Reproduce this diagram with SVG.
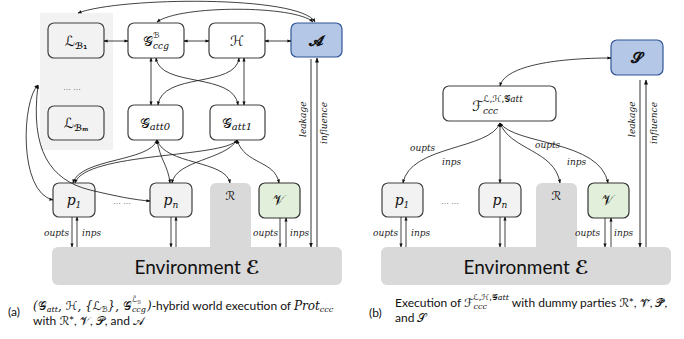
<svg xmlns="http://www.w3.org/2000/svg" width="684" height="339" viewBox="0 0 684 339">
<style>
.box{stroke:#404040;stroke-width:1.2}
.wh{fill:#ffffff}
.gr{fill:#f2f2f2}
.bl{fill:#b4c7e7;stroke:#2f5597;stroke-width:1.2}
.gn{fill:#e2efda;stroke:#333;stroke-width:1.2}
.env{fill:#d9d9d9}
.m{font-family:"DejaVu Serif","Liberation Serif",serif;font-style:italic;fill:#111}
.s{font-family:"DejaVu Sans","Noto Sans",sans-serif;font-style:normal}
.lbl{font-family:"DejaVu Serif","Liberation Serif",serif;font-style:italic;font-size:9px;fill:#222}
.cap{font-family:"Lato","Open Sans",sans-serif;font-size:12px;fill:#111}
.c{fill:none;stroke:#111;stroke-width:0.8}
.ln{fill:none;stroke:#333;stroke-width:1}
</style>
<defs>
<marker id="ah" viewBox="0 0 10 10" refX="9" refY="5" markerWidth="5" markerHeight="5" orient="auto-start-reverse"><path d="M0,1 L10,5 L0,9z" fill="#111"/></marker>
</defs>
<g id="panelB"><rect x="40" y="13" width="73" height="137" fill="#f2f2f2"/><text x="72" y="90" font-family="Liberation Sans,sans-serif" font-size="8" text-anchor="middle" fill="#333">… …</text></g>
<g id="LB1"><rect class="box gr" x="48" y="23" width="56" height="35" rx="6"/><text class="m" x="76" y="46" font-size="14" text-anchor="middle"><tspan class="s">ℒ</tspan><tspan class="s" font-size="9" dy="3" font-weight="bold">ℬ₁</tspan></text></g>
<g id="LBm"><rect class="box gr" x="48" y="106" width="56" height="34" rx="6"/><text class="m" x="76" y="128" font-size="14" text-anchor="middle"><tspan class="s">ℒ</tspan><tspan class="s" font-size="9" dy="3" font-weight="bold">ℬₘ</tspan></text></g>
<g id="Gccg"><rect class="box wh" x="128" y="23" width="56" height="35" rx="6"/><text class="m" x="156" y="46" font-size="14" text-anchor="middle"><tspan class="s">𝒢</tspan><tspan font-size="9" dy="3">ccg</tspan><tspan class="s" font-size="8" dx="-16" dy="-11">ℬ</tspan></text></g>
<g id="H"><rect class="box wh" x="209" y="23" width="56" height="35" rx="6"/><text class="m s" x="237" y="46" font-size="14" text-anchor="middle">ℋ</text></g>
<g id="A"><rect class="bl" x="291" y="23" width="51" height="34" rx="6"/><text class="m s" x="316" y="46" font-size="15" font-weight="bold" text-anchor="middle">𝓐</text></g>
<g id="Gatt0"><rect class="box wh" x="128" y="105" width="55" height="35" rx="6"/><text class="m" x="155" y="128" font-size="14" text-anchor="middle"><tspan class="s">𝒢</tspan><tspan font-size="10" dy="2">att0</tspan></text></g>
<g id="Gatt1"><rect class="box wh" x="210" y="105" width="55" height="35" rx="6"/><text class="m" x="237" y="128" font-size="14" text-anchor="middle"><tspan class="s">𝒢</tspan><tspan font-size="10" dy="2">att1</tspan></text></g>
<g id="envL"><rect class="env" x="210" y="183" width="41" height="70" rx="6"/><rect class="env" x="52" y="247" width="290" height="38" rx="6"/><text class="m s" x="230" y="200" font-size="12" text-anchor="middle">ℛ</text><text x="197" y="274" font-family="Lato,sans-serif" font-size="19" text-anchor="middle" fill="#111">Environment <tspan class="s" font-weight="bold">ℰ</tspan></text></g>
<g id="p1L"><rect class="box gr" x="53" y="183" width="42" height="34" rx="6"/><text class="m" x="74" y="205" font-size="14" text-anchor="middle">p<tspan font-size="9" dy="3">1</tspan></text></g>
<g id="pnL"><rect class="box gr" x="150" y="183" width="42" height="34" rx="6"/><text class="m" x="171" y="205" font-size="14" text-anchor="middle">p<tspan font-size="9" dy="3">n</tspan></text><text x="122" y="204" font-family="Liberation Sans,sans-serif" font-size="8" text-anchor="middle" fill="#333">… …</text></g>
<g id="VL"><rect class="gn" x="259" y="183" width="41" height="35" rx="6"/><text class="m s" x="279" y="205" font-size="14" text-anchor="middle">𝒱</text></g>
<g id="S"><rect class="bl" x="611" y="40" width="52" height="35" rx="6"/><text class="m s" x="637" y="63" font-size="15" font-weight="bold" text-anchor="middle">𝓢</text></g>
<g id="F"><rect class="box wh" x="443" y="86" width="113" height="35" rx="6"/><text class="m" x="472" y="111" font-size="14"><tspan class="s">ℱ</tspan><tspan font-size="9" dy="3">ccc</tspan><tspan font-size="9" dx="-15" dy="-12"><tspan class="s">ℒ,ℋ,𝒢</tspan>att</tspan></text></g>
<g id="envR"><rect class="env" x="536" y="183" width="41" height="70" rx="6"/><rect class="env" x="381" y="247" width="290" height="38" rx="6"/><text class="m s" x="556" y="200" font-size="12" text-anchor="middle">ℛ</text><text x="526" y="274" font-family="Lato,sans-serif" font-size="19" text-anchor="middle" fill="#111">Environment <tspan class="s" font-weight="bold">ℰ</tspan></text></g>
<g id="p1R"><rect class="box gr" x="382" y="183" width="41" height="34" rx="6"/><text class="m" x="402" y="205" font-size="14" text-anchor="middle">p<tspan font-size="9" dy="3">1</tspan></text><text x="450" y="204" font-family="Liberation Sans,sans-serif" font-size="8" text-anchor="middle" fill="#333">… …</text></g>
<g id="pnR"><rect class="box gr" x="479" y="183" width="42" height="34" rx="6"/><text class="m" x="500" y="205" font-size="14" text-anchor="middle">p<tspan font-size="9" dy="3">n</tspan></text></g>
<g id="VR"><rect class="gn" x="588" y="183" width="41" height="35" rx="6"/><text class="m s" x="608" y="205" font-size="14" text-anchor="middle">𝒱</text></g>
<g id="connectors">
<path class="c" d="M315,22 C300,-5 120,-3 78,13" marker-start="url(#ah)" marker-end="url(#ah)"/>
<path class="c" d="M313,22 C295,5 180,5 157,22" marker-start="url(#ah)" marker-end="url(#ah)"/>
<path class="c" d="M104,41 L128,41" marker-start="url(#ah)" marker-end="url(#ah)"/>
<path class="c" d="M184,41 L209,41" marker-start="url(#ah)" marker-end="url(#ah)"/>
<path class="c" d="M265,41 L291,41" marker-start="url(#ah)" marker-end="url(#ah)"/>
<path class="c" d="M151,58 L151,105" marker-start="url(#ah)" marker-end="url(#ah)"/>
<path class="c" d="M156,58 C160,88 234,72 238,105" marker-start="url(#ah)" marker-end="url(#ah)"/>
<path class="c" d="M239,58 C236,88 162,72 158,105" marker-start="url(#ah)" marker-end="url(#ah)"/>
<path class="c" d="M244,58 L244,105" marker-start="url(#ah)" marker-end="url(#ah)"/>
<path class="c" d="M157,140 C150,162 80,158 73,183" marker-start="url(#ah)" marker-end="url(#ah)"/>
<path class="c" d="M157,140 C160,160 168,165 170,183" marker-start="url(#ah)" marker-end="url(#ah)"/>
<path class="c" d="M157,140 C165,165 226,160 230,183" marker-start="url(#ah)" marker-end="url(#ah)"/>
<path class="c" d="M237,140 C225,158 85,152 75,183" marker-start="url(#ah)" marker-end="url(#ah)"/>
<path class="c" d="M237,140 C225,160 176,160 172,183" marker-start="url(#ah)" marker-end="url(#ah)"/>
<path class="c" d="M237,140 C245,165 275,160 279,183" marker-start="url(#ah)" marker-end="url(#ah)"/>
<path class="c" d="M38,85 C22,100 18,192 53,200" marker-start="url(#ah)" marker-end="url(#ah)"/>
<path class="c" d="M38,85 C30,150 50,180 90,190 C115,196 135,200 150,201" marker-start="url(#ah)" marker-end="url(#ah)"/>
<path class="c" d="M72,217 L72,247" marker-end="url(#ah)"/>
<path class="c" d="M77,247 L77,217" marker-end="url(#ah)"/>
<path class="c" d="M171,217 L171,247" marker-end="url(#ah)"/>
<path class="c" d="M176,247 L176,217" marker-end="url(#ah)"/>
<path class="c" d="M280,218 L280,247" marker-end="url(#ah)"/>
<path class="c" d="M286,247 L286,218" marker-end="url(#ah)"/>
<path class="ln" d="M311,59 L311,247" marker-end="url(#ah)"/>
<path class="ln" d="M317,247 L317,58" marker-end="url(#ah)"/>
<path class="c" d="M500,86 C505,65 560,58 611,58" marker-start="url(#ah)" marker-end="url(#ah)"/>
<path class="c" d="M500,123 C490,150 410,145 403,183" marker-start="url(#ah)" marker-end="url(#ah)"/>
<path class="c" d="M500,123 L500,183" marker-start="url(#ah)" marker-end="url(#ah)"/>
<path class="c" d="M500,123 C510,150 555,150 560,183" marker-start="url(#ah)" marker-end="url(#ah)"/>
<path class="c" d="M500,123 C515,145 600,140 608,183" marker-start="url(#ah)" marker-end="url(#ah)"/>
<path class="c" d="M401,217 L401,247" marker-end="url(#ah)"/>
<path class="c" d="M406,247 L406,217" marker-end="url(#ah)"/>
<path class="c" d="M500,217 L500,247" marker-end="url(#ah)"/>
<path class="c" d="M505,247 L505,217" marker-end="url(#ah)"/>
<path class="c" d="M605,218 L605,247" marker-end="url(#ah)"/>
<path class="c" d="M611,247 L611,218" marker-end="url(#ah)"/>
<path class="ln" d="M640,80 L640,247" marker-end="url(#ah)"/>
<path class="ln" d="M646,247 L646,80" marker-end="url(#ah)"/>
</g>
<g id="labels">
<text class="lbl" x="44" y="236">oupts</text><text class="lbl" x="82" y="236">inps</text>
<text class="lbl" x="253" y="236">oupts</text><text class="lbl" x="290" y="236">inps</text>
<text class="lbl" transform="translate(306,137) rotate(-90)">leakage</text>
<text class="lbl" transform="translate(327,144) rotate(-90)">influence</text>
<text class="lbl" x="373" y="236">oupts</text><text class="lbl" x="411" y="236">inps</text>
<text class="lbl" x="575" y="236">oupts</text><text class="lbl" x="614" y="236">inps</text>
<text class="lbl" transform="translate(635,137) rotate(-90)">leakage</text>
<text class="lbl" transform="translate(657,144) rotate(-90)">influence</text>
<text class="lbl" x="410" y="151">oupts</text><text class="lbl" x="442" y="165">inps</text>
<text class="lbl" x="535" y="148">oupts</text><text class="lbl" x="567" y="165">inps</text>
</g>
<g id="captions">
<text class="cap" x="8" y="316">(a)</text>
<text class="cap" x="33" y="310"><tspan class="m">(<tspan class="s">𝒢</tspan><tspan font-size="8" dy="2">att</tspan><tspan dy="-2">, <tspan class="s">ℋ</tspan>, {<tspan class="s">ℒ</tspan></tspan><tspan class="s" font-size="8" dy="2">ℬ</tspan><tspan dy="-2">}, <tspan class="s">𝒢</tspan></tspan><tspan font-size="8" dy="2">ccg</tspan><tspan class="s" font-size="7" dx="-14" dy="-10">ℒ̃</tspan><tspan class="s" font-size="5" dy="2">ℬ</tspan><tspan dx="6" dy="6">)</tspan></tspan>-hybrid world execution of <tspan class="m">Prot<tspan font-size="8" dy="2">ccc</tspan></tspan></text>
<text class="cap" x="33" y="325">with <tspan class="s">ℛ</tspan>*, <tspan class="s">𝒱</tspan>, <tspan class="s">𝒫</tspan>, and <tspan class="s">𝒜</tspan></text>
<text class="cap" x="369" y="317">(b)</text>
<text class="cap" x="395" y="307">Execution of <tspan class="s">ℱ</tspan><tspan class="m" font-size="8" dy="2">ccc</tspan><tspan font-size="8" dx="-14" dy="-9"><tspan class="s">ℒ,ℋ,𝒢</tspan><tspan class="m">att</tspan></tspan><tspan dy="7"> with dummy parties </tspan><tspan class="s">ℛ</tspan>*, <tspan class="s">𝒱̃</tspan>, <tspan class="s">𝒫̃</tspan>,</text>
<text class="cap" x="395" y="322">and <tspan class="s">𝒮</tspan></text>
</g>
</svg>
